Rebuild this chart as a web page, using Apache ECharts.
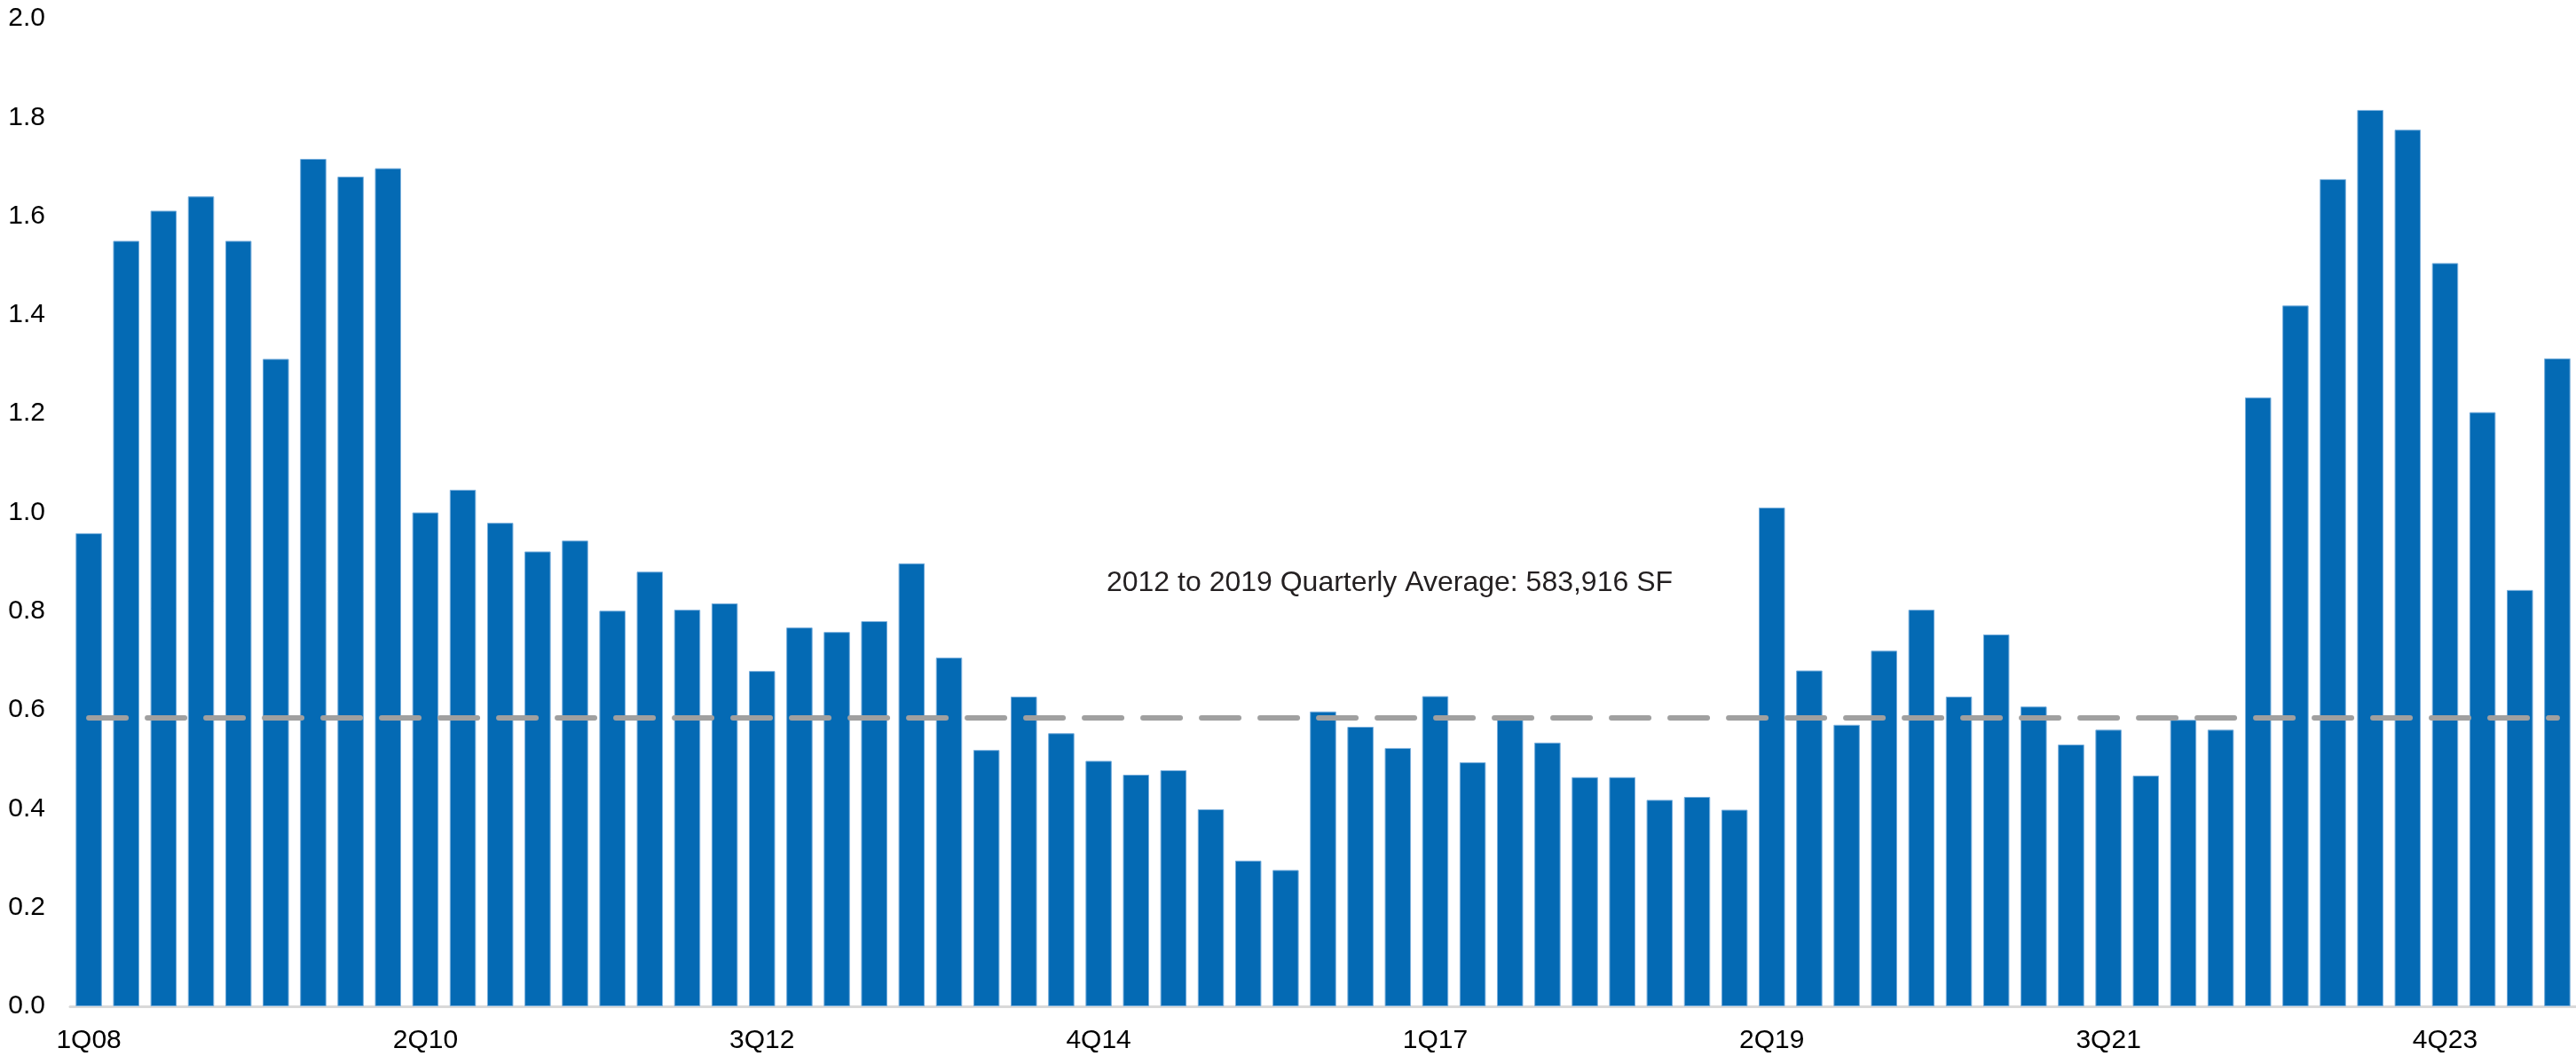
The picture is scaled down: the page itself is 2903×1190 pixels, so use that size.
<!DOCTYPE html>
<html>
<head>
<meta charset="utf-8">
<script src="https://cdn.jsdelivr.net/npm/echarts@6/dist/echarts.min.js"></script>
<style>
html,body{margin:0;padding:0;background:#ffffff;}
#chart{width:2903px;height:1190px;}
</style>
</head>
<body>
<div id="chart"></div>
<script>
// Quarter categories (1Q08 - 3Q24)
const categories = [
  '1Q08','2Q08','3Q08','4Q08',
  '1Q09','2Q09','3Q09','4Q09',
  '1Q10','2Q10','3Q10','4Q10',
  '1Q11','2Q11','3Q11','4Q11',
  '1Q12','2Q12','3Q12','4Q12',
  '1Q13','2Q13','3Q13','4Q13',
  '1Q14','2Q14','3Q14','4Q14',
  '1Q15','2Q15','3Q15','4Q15',
  '1Q16','2Q16','3Q16','4Q16',
  '1Q17','2Q17','3Q17','4Q17',
  '1Q18','2Q18','3Q18','4Q18',
  '1Q19','2Q19','3Q19','4Q19',
  '1Q20','2Q20','3Q20','4Q20',
  '1Q21','2Q21','3Q21','4Q21',
  '1Q22','2Q22','3Q22','4Q22',
  '1Q23','2Q23','3Q23','4Q23',
  '1Q24','2Q24','3Q24'
];

// Quarterly values (millions of SF)
const values = [
  0.958, 1.550, 1.611, 1.640,
  1.550, 1.311, 1.716, 1.680,
  1.697, 1.000, 1.046, 0.979,
  0.921, 0.943, 0.801, 0.880,
  0.803, 0.816, 0.679, 0.767,
  0.758, 0.780, 0.897, 0.706,
  0.519, 0.627, 0.553, 0.497,
  0.469, 0.478, 0.399, 0.295,
  0.276, 0.597, 0.566, 0.523,
  0.628, 0.494, 0.580, 0.534,
  0.464, 0.464, 0.418, 0.424,
  0.398, 1.010, 0.680, 0.570,
  0.720, 0.803, 0.627, 0.753,
  0.607, 0.530, 0.560, 0.467,
  0.580, 0.560, 1.233, 1.419,
  1.675, 1.815, 1.775, 1.505,
  1.203, 0.843, 1.312
];

// 2012 to 2019 quarterly average (583,916 SF)
const averageValue = 0.583916;
const averageLabel = '2012 to 2019 Quarterly Average: 583,916 SF';

// Y axis ticks
const yMin = 0;
const yMax = 2.0;
const yInterval = 0.2;

const FONT = "'Liberation Sans', Arial, Helvetica, sans-serif";

const chart = echarts.init(document.getElementById('chart'), null, {renderer: 'canvas'});

chart.setOption({
  animation: false,
  backgroundColor: '#ffffff',
  grid: {
    left: 79,
    top: 21,
    width: 2829,
    bottom: 56,
    containLabel: false
  },
  xAxis: {
    type: 'category',
    data: categories,
    boundaryGap: true,
    axisLine: {show: true, lineStyle: {color: '#d9d9d9', width: 3}},
    axisTick: {show: false},
    splitLine: {show: false},
    axisLabel: {
      interval: 8,
      color: '#000000',
      fontFamily: FONT,
      fontSize: 30,
      margin: 24
    }
  },
  yAxis: {
    type: 'value',
    min: yMin,
    max: yMax,
    interval: yInterval,
    axisLine: {show: false},
    axisTick: {show: false},
    splitLine: {show: false},
    axisLabel: {
      color: '#000000',
      fontFamily: FONT,
      fontSize: 30,
      margin: 28,
      formatter: function (v) { return v.toFixed(1); }
    }
  },
  series: [
    {
      type: 'bar',
      data: values,
      barWidth: '70%',
      itemStyle: {
        color: '#046ab4',
        borderColor: '#78aedc',
        borderWidth: 1
      },
      silent: true,
      markLine: {
        silent: true,
        symbol: ['none', 'none'],
        label: {show: false},
        lineStyle: {
          color: '#a0a0a0',
          width: 6,
          type: [42, 24],
          cap: 'round'
        },
        emphasis: {disabled: true},
        data: [
          [
            {coord: [categories[0], averageValue]},
            {coord: [categories[categories.length - 1], averageValue]}
          ]
        ]
      }
    }
  ],
  graphic: [
    {
      type: 'text',
      x: 1566,
      y: 657,
      silent: true,
      style: {
        text: averageLabel,
        fill: '#231f20',
        font: '32px ' + FONT,
        align: 'center',
        verticalAlign: 'middle'
      }
    }
  ]
});
</script>
</body>
</html>
